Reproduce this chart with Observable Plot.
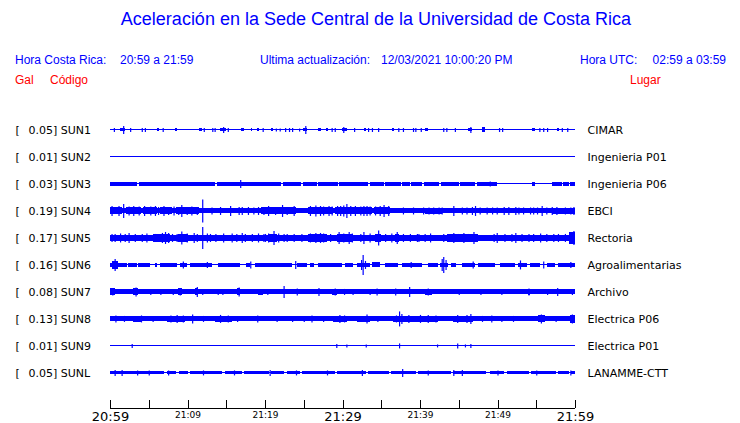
<!DOCTYPE html>
<html>
<head>
<meta charset="utf-8">
<script src="https://cdn.jsdelivr.net/npm/d3@7"></script>
<script src="https://cdn.jsdelivr.net/npm/@observablehq/plot@0.6"></script>
<style>
  html, body { margin: 0; padding: 0; background: #fff; }
  #wrap { position: relative; width: 740px; height: 423px; overflow: hidden; }
  #chart { position: absolute; left: 0; top: 0; }
  .hdr { position: absolute; font-family: "Liberation Sans", Arial, sans-serif; white-space: pre; }
  .blue { color: #0000ff; }
  .red { color: #ff0000; }
</style>
</head>
<body>
<div id="wrap">
  <div id="chart"></div>
  <div class="hdr blue" id="title" style="left:0;width:752px;text-align:center;top:9px;font-size:18px;"></div>
  <div class="hdr blue" id="h1a" style="left:15px;top:53px;font-size:12px;"></div>
  <div class="hdr blue" id="h1b" style="left:120px;top:53px;font-size:12px;"></div>
  <div class="hdr blue" id="h2a" style="left:260px;top:53px;font-size:12px;"></div>
  <div class="hdr blue" id="h2b" style="left:381px;top:53px;font-size:12px;"></div>
  <div class="hdr blue" id="h3a" style="left:580px;top:53px;font-size:12px;"></div>
  <div class="hdr blue" id="h3b" style="right:14px;top:53px;font-size:12px;"></div>
  <div class="hdr red" id="r1" style="left:15px;top:73px;font-size:12px;"></div>
  <div class="hdr red" id="r2" style="left:50px;top:73px;font-size:12px;"></div>
  <div class="hdr red" id="r3" style="left:630px;top:73px;font-size:12px;"></div>
</div>
<script>
// ---------- texts ----------
const titleText = "Aceleración en la Sede Central de la Universidad de Costa Rica";
const headerLabels = ["Hora Costa Rica:", "Ultima actualización:", "Hora UTC:"];
const headerValues = ["20:59 a 21:59", "12/03/2021 10:00:20 PM", "02:59 a 03:59"];
const columnTexts = ["Gal", "Código", "Lugar"];

// ---------- stations ----------
const stations = ["SUN1", "SUN2", "SUN3", "SUN4", "SUN5", "SUN6", "SUN7", "SUN8", "SUN9", "SUNL"];
const peaks = [0.05, 0.01, 0.03, 0.19, 0.17, 0.16, 0.08, 0.13, 0.01, 0.05];
const places = ["CIMAR", "Ingenieria P01", "Ingenieria P06", "EBCI", "Rectoria", "Agroalimentarias", "Archivo", "Electrica P06", "Electrica P01", "LANAMME-CTT"];

// ---------- time axis (minutes after 20:59) ----------
const tickMinutes = [0, 5, 10, 15, 20, 25, 30, 35, 40, 45, 50, 55, 60];
const bigLabelMinutes = [0, 30, 60];
const bigLabels = ["20:59", "21:29", "21:59"];
const smallLabelMinutes = [10, 20, 40, 50];
const smallLabels = ["21:09", "21:19", "21:39", "21:49"];

// ---------- trace envelopes: bands [start min, end min, half amplitude], spikes [min, half amplitude] ----------
const bandsSUN1 = [[0,60,0.5],[1.3,1.9,1.5],[6.1,6.3,1.5],[8.4,8.6,1.5],[11.5,11.9,1.5],[14.2,15.0,1.5],[16.9,17.3,1.5],[18.2,18.3,1.5],[19.0,19.2,1.5],[20.8,21.0,1.5],[24.9,25.4,1.5],[26.8,27.2,1.5],[27.9,28.1,1.5],[29.9,30.6,1.5],[32.8,33.0,1.5],[36.4,36.6,1.5],[40.6,41.0,1.5],[46.2,46.7,1.5],[48.0,48.4,2.5],[54.5,54.8,1.5],[57.7,57.9,1.5]];
const spikesSUN1 = [[0.5,2],[1.7,4],[2.6,2],[4.1,2],[4.5,2],[6.8,2],[12.1,2],[13.2,2],[13.5,2],[14.6,3],[15.2,2],[19.7,2],[21.4,1.5],[21.9,1.5],[22.6,2],[23.1,2],[23.5,2],[24.4,1.5],[25.2,4],[28.6,2],[29.0,2],[30.1,3],[31.5,2],[33.3,2],[33.8,2],[34.6,2],[37.2,2],[37.8,2],[39.1,2],[39.4,2],[40.1,2],[43.0,2],[43.4,2],[44.5,2],[46.5,3],[50.2,2],[50.6,2],[55.4,2],[55.9,2],[56.4,2],[58.3,2],[59.0,2]];

const bandsSUN2 = [[0,60,0.5]];
const spikesSUN2 = [];

const bandsSUN3 = [[0,60,0.5],[0,3.5,2],[3.7,13.6,2],[13.8,22.1,2],[22.3,24.7,2],[24.9,26.7,2],[26.9,29.4,2],[29.6,33.3,2],[33.5,35.3,2],[35.5,37.5,2],[37.7,38.7,2],[38.9,40.3,2],[40.5,42.5,2],[42.7,45.0,2],[45.2,47.1,2],[47.3,49.9,2],[54.5,54.9,2],[57.0,58.3,2],[58.5,59.2,2],[59.4,60,2]];
const spikesSUN3 = [[16.8,4],[49.0,2.5]];

const bandsSUN4 = [[0,60,2.5],[0,1.5,3.5],[2.0,4.0,3.5],[4.3,6.0,3.5],[6.5,8.0,3.5],[8.5,11.5,3.5],[19.5,24,3.5],[25.5,28.8,3.5],[29.0,33.8,3.5],[34.0,36.1,3.5],[40.6,42.8,3],[57,60,3]];
const spikesSUN4 = [[0.2,5],[1.1,5],[1.7,7],[2.4,4.5],[3.0,5],[3.7,4.5],[4.4,5],[5.2,4.5],[5.8,5],[6.2,4],[6.9,5],[7.5,4],[8.2,4.5],[8.8,4],[9.2,6],[9.9,4],[10.5,4.5],[11.2,4],[11.9,11.5],[13.1,3.5],[14.2,4],[15.5,5],[16.6,4],[17.0,4],[17.8,4],[18.5,3.5],[19.1,4],[19.8,4],[20.4,5],[21.3,4],[22.2,6],[22.8,4],[23.7,5],[25.8,5],[26.5,5.5],[27.1,5],[27.5,4.5],[28.2,5],[28.6,4.5],[29.3,5],[29.7,5],[30.1,5.5],[30.5,7],[31.0,5],[31.6,5],[32.3,4.5],[32.7,5],[33.1,5],[33.5,4.5],[34.2,4.5],[34.8,5],[35.3,6],[35.9,5],[37.8,3.5],[39.1,3.5],[40.4,3.5],[41.1,3.5],[41.7,3.5],[42.4,3.5],[42.8,3.5],[44.3,5],[45.4,3.5],[46.0,3.5],[46.7,4],[47.1,5],[47.7,3.5],[48.6,3.5],[49.3,3.5],[49.9,3.5],[50.8,4],[51.4,4],[52.3,4],[52.7,3.5],[53.3,3.5],[54.2,3.5],[54.6,3.5],[55.1,3.5],[55.7,5],[56.3,3.5],[57.0,4],[57.6,4],[58.7,3.5],[59.4,3.5],[59.8,4]];

const bandsSUN5 = [[0,60,3],[5.5,7.8,4],[8.8,10,4],[20.5,21.5,4],[25.5,28,4],[29.3,31.3,4],[34.2,35,4],[36.8,37.3,4],[43.5,47.5,3.8],[59.2,60,6]];
const spikesSUN5 = [[0.2,4],[0.6,4],[1.3,4.5],[1.9,4],[2.4,5],[3.2,4],[4.1,4],[4.7,4.5],[5.8,4],[6.7,5],[7.1,6],[7.5,5],[8.0,4],[8.6,4],[9.2,6.5],[9.9,4.5],[10.8,5],[11.2,4],[11.9,11],[12.5,4.5],[12.9,4],[13.6,4],[14.6,4.5],[15.7,4.5],[16.3,4],[17.0,5],[17.4,4],[18.3,4],[19.1,4.5],[19.8,4],[20.0,4],[20.4,4.5],[21.1,7],[21.7,4.5],[22.4,4],[22.8,4],[23.7,4],[24.7,4],[25.8,4.5],[26.5,5],[27.1,5],[27.5,4.5],[28.4,4],[29.5,6],[30.1,4.5],[30.8,6],[31.2,4.5],[32.3,4],[32.7,6],[33.5,4.5],[34.6,7.5],[35.5,4],[36.3,4.5],[37.0,6],[37.8,4],[38.7,4],[39.6,4],[39.8,4],[40.6,4],[41.3,4.5],[43.0,4],[43.7,4],[44.3,5],[44.9,4],[45.6,5],[46.2,4],[46.9,6],[47.3,4],[49.5,4],[49.9,5],[50.9,4],[51.8,4],[52.3,5],[53.1,4],[54.0,4],[54.6,4],[55.5,4.5],[56.3,4],[57.2,4],[57.8,4],[58.7,4],[59.4,5],[59.8,7]];

const bandsSUN6 = [[0,60,0.5],[0,2.2,2],[2.3,3.5,2],[3.6,5.2,2],[5.8,6.0,2],[6.5,8.6,2],[9.0,9.9,2],[10.3,13.2,2],[13.9,16.8,2],[17.5,18.0,2],[18.7,23.5,2],[24.1,25.4,2],[25.8,26.3,2],[26.8,29.9,2],[30.3,31.4,2],[31.9,33.5,2],[33.8,34.8,2.5],[35.5,37.2,2],[37.7,40.3,2],[41.0,42.3,2],[42.6,43.6,2],[44.0,44.7,2],[45.4,47.1,2],[47.5,49.7,2],[50.3,52.3,2],[52.6,53.8,2],[54.2,55.5,2],[56.4,57.4,2],[57.8,60,2],[0.3,1.0,4]];
const spikesSUN6 = [[0.6,6],[9.4,3.5],[12.5,3],[18.1,3.5],[23.9,4],[32.4,5],[32.6,10],[32.9,4],[38.8,3],[42.8,6],[43.0,8],[43.3,5],[46.8,3.5],[52.9,4.5],[55.9,3.5],[59.4,3]];

const bandsSUN7 = [[0,60,2.5],[0,0.6,3.5],[3.0,3.6,3.5],[8.8,9.3,3.5],[11,11.4,3.5],[16.4,16.8,3.5],[19.1,19.7,3],[28.6,29.3,3],[40.6,41.5,3],[53.9,54.2,3]];
const spikesSUN7 = [[0.3,3.5],[3.3,4.5],[5.2,3],[6.5,3],[8.1,3],[9.0,3.5],[11.2,5],[11.9,3],[13.9,3],[14.5,3],[16.6,4.5],[19.4,3],[20.3,3],[22.4,6],[24.1,3.5],[26.9,4],[29.0,3.5],[30.2,3],[31.3,3],[33.5,3],[34.4,3.5],[36.8,3.5],[38.6,5],[41.0,3.5],[45.0,3],[47.8,3],[50.5,3],[54.0,3.5],[56.4,3],[57.7,4],[59.6,3]];

const bandsSUN8 = [[0,60,2.5],[3.0,4.1,3],[7.4,9.7,3],[13.5,15.7,3],[28.8,30.6,3],[31.9,33.5,3],[36.5,42.3,3],[44.2,46.8,3],[55.2,56.1,3.5],[59.3,60,4]];
const spikesSUN8 = [[0.7,3.5],[1.8,3],[4.0,3.5],[5.5,3],[7.8,3.5],[8.6,4],[9.4,3.5],[10.6,4.5],[12.0,3],[14.2,4],[15.2,3.5],[16.4,3],[19.0,3.5],[21.5,3],[23.5,3],[25.0,3],[26.0,3.5],[27.5,3],[29.6,4],[30.2,3.5],[33.1,4.5],[34.5,3],[36.9,3.5],[37.3,7.5],[37.6,5],[38.5,4],[40.0,4],[41.0,4],[42.0,3.5],[44.8,4],[46.0,4],[46.5,5],[48.0,3],[49.2,3.5],[50.5,3],[52.0,3],[55.6,4.5],[57.5,3],[59.6,4.5]];

const bandsSUN9 = [[0,60,0.5]];
const spikesSUN9 = [[2.8,2],[29.2,2],[30.5,1.5],[33.0,1.5],[37.3,2.5],[42.2,1.5],[44.8,2.5],[45.8,1.5],[46.5,2]];

const bandsSUNL = [[0,60,0.5],[0,7.0,1.5],[7.3,8.5,1.5],[8.9,10.0,1.5],[10.3,14.5,1.5],[14.8,17.0,1.5],[17.3,20.5,1.5],[20.8,22.5,1.5],[22.9,24.5,1.5],[24.8,29.0,1.5],[29.3,33.0,1.5],[33.3,36.0,1.5],[36.3,39.5,1.5],[39.8,44.0,1.5],[44.3,48.5,1.5],[49.0,50.8,1.5],[51.2,54.0,1.5],[54.3,57.5,1.5],[57.8,59.2,1.5],[59.5,60,1.5]];
const spikesSUNL = [[0.6,3],[1.5,3],[3.5,2.5],[5.0,2.5],[7.5,2.5],[12.0,2.5],[16.0,2.5],[20.6,3],[24.0,2.5],[28.0,2.5],[32.5,3],[37.7,4],[41.0,2.5],[44.3,3],[45.4,3],[50.0,2.5],[55.0,2.5],[59.4,2.5]];

const allBands = [bandsSUN1, bandsSUN2, bandsSUN3, bandsSUN4, bandsSUN5, bandsSUN6, bandsSUN7, bandsSUN8, bandsSUN9, bandsSUNL];
const allSpikes = [spikesSUN1, spikesSUN2, spikesSUN3, spikesSUN4, spikesSUN5, spikesSUN6, spikesSUN7, spikesSUN8, spikesSUN9, spikesSUNL];

// amplitude units per trace spacing
const ampPerRow = 27;

// ---------- build tables ----------
const bandRows = allBands.flatMap((b, i) => b.map(([t0, t1, h]) => ({i, t0, t1, lo: i - h / ampPerRow, hi: i + h / ampPerRow})));
const spikeRows = allSpikes.flatMap((s, i) => s.map(([t, h]) => ({i, t, lo: i - h / ampPerRow, hi: i + h / ampPerRow})));
const labelRows = stations.map((s, i) => ({i, code: s, peak: peaks[i].toFixed(2), place: places[i]}));

const yMax = 10.3;
const blue = "#0000ff";

const chart = Plot.plot({
  width: 740,
  height: 423,
  marginLeft: 110,
  marginRight: 165,
  marginTop: 116.5,
  marginBottom: 15,
  style: {background: "transparent", overflow: "visible"},
  x: {domain: [0, 60], axis: null},
  y: {domain: [-0.5, yMax], reverse: true, axis: null},
  marks: [
    Plot.rect(bandRows, {x1: "t0", x2: "t1", y1: "lo", y2: "hi", fill: blue, shapeRendering: "crispEdges"}),
    Plot.ruleX(spikeRows, {x: "t", y1: "lo", y2: "hi", stroke: blue, strokeWidth: 1.2}),
    Plot.text(labelRows, {y: "i", text: () => "[", frameAnchor: "left", dx: -95, textAnchor: "start", fontFamily: "DejaVu Sans", fontSize: 11, fill: "#000"}),
    Plot.text(labelRows, {y: "i", text: d => d.peak + "] " + d.code, frameAnchor: "left", dx: -82, textAnchor: "start", fontFamily: "DejaVu Sans", fontSize: 11, fill: "#000"}),
    Plot.text(labelRows, {y: "i", text: "place", frameAnchor: "right", dx: 12, textAnchor: "start", fontFamily: "DejaVu Sans", fontSize: 11, fill: "#000"}),
    Plot.ruleY([yMax], {stroke: "#000", strokeWidth: 1, shapeRendering: "crispEdges"}),
    Plot.ruleX(tickMinutes, {x: d => d, insetTop: 283.5, stroke: "#000", strokeWidth: 1, shapeRendering: "crispEdges"}),
    Plot.text(bigLabelMinutes, {x: d => d, text: (d, j) => bigLabels[j], frameAnchor: "bottom", dy: 8, lineAnchor: "middle", fontFamily: "DejaVu Sans", fontSize: 13, fill: "#000"}),
    Plot.text(smallLabelMinutes, {x: d => d, text: (d, j) => smallLabels[j], frameAnchor: "bottom", dy: 7, lineAnchor: "middle", fontFamily: "DejaVu Sans", fontSize: 9, fill: "#000"})
  ]
});
document.getElementById("chart").appendChild(chart);

document.getElementById("title").textContent = titleText;
document.getElementById("h1a").textContent = headerLabels[0];
document.getElementById("h1b").textContent = headerValues[0];
document.getElementById("h2a").textContent = headerLabels[1];
document.getElementById("h2b").textContent = headerValues[1];
document.getElementById("h3a").textContent = headerLabels[2];
document.getElementById("h3b").textContent = headerValues[2];
document.getElementById("r1").textContent = columnTexts[0];
document.getElementById("r2").textContent = columnTexts[1];
document.getElementById("r3").textContent = columnTexts[2];
</script>
</body>
</html>
